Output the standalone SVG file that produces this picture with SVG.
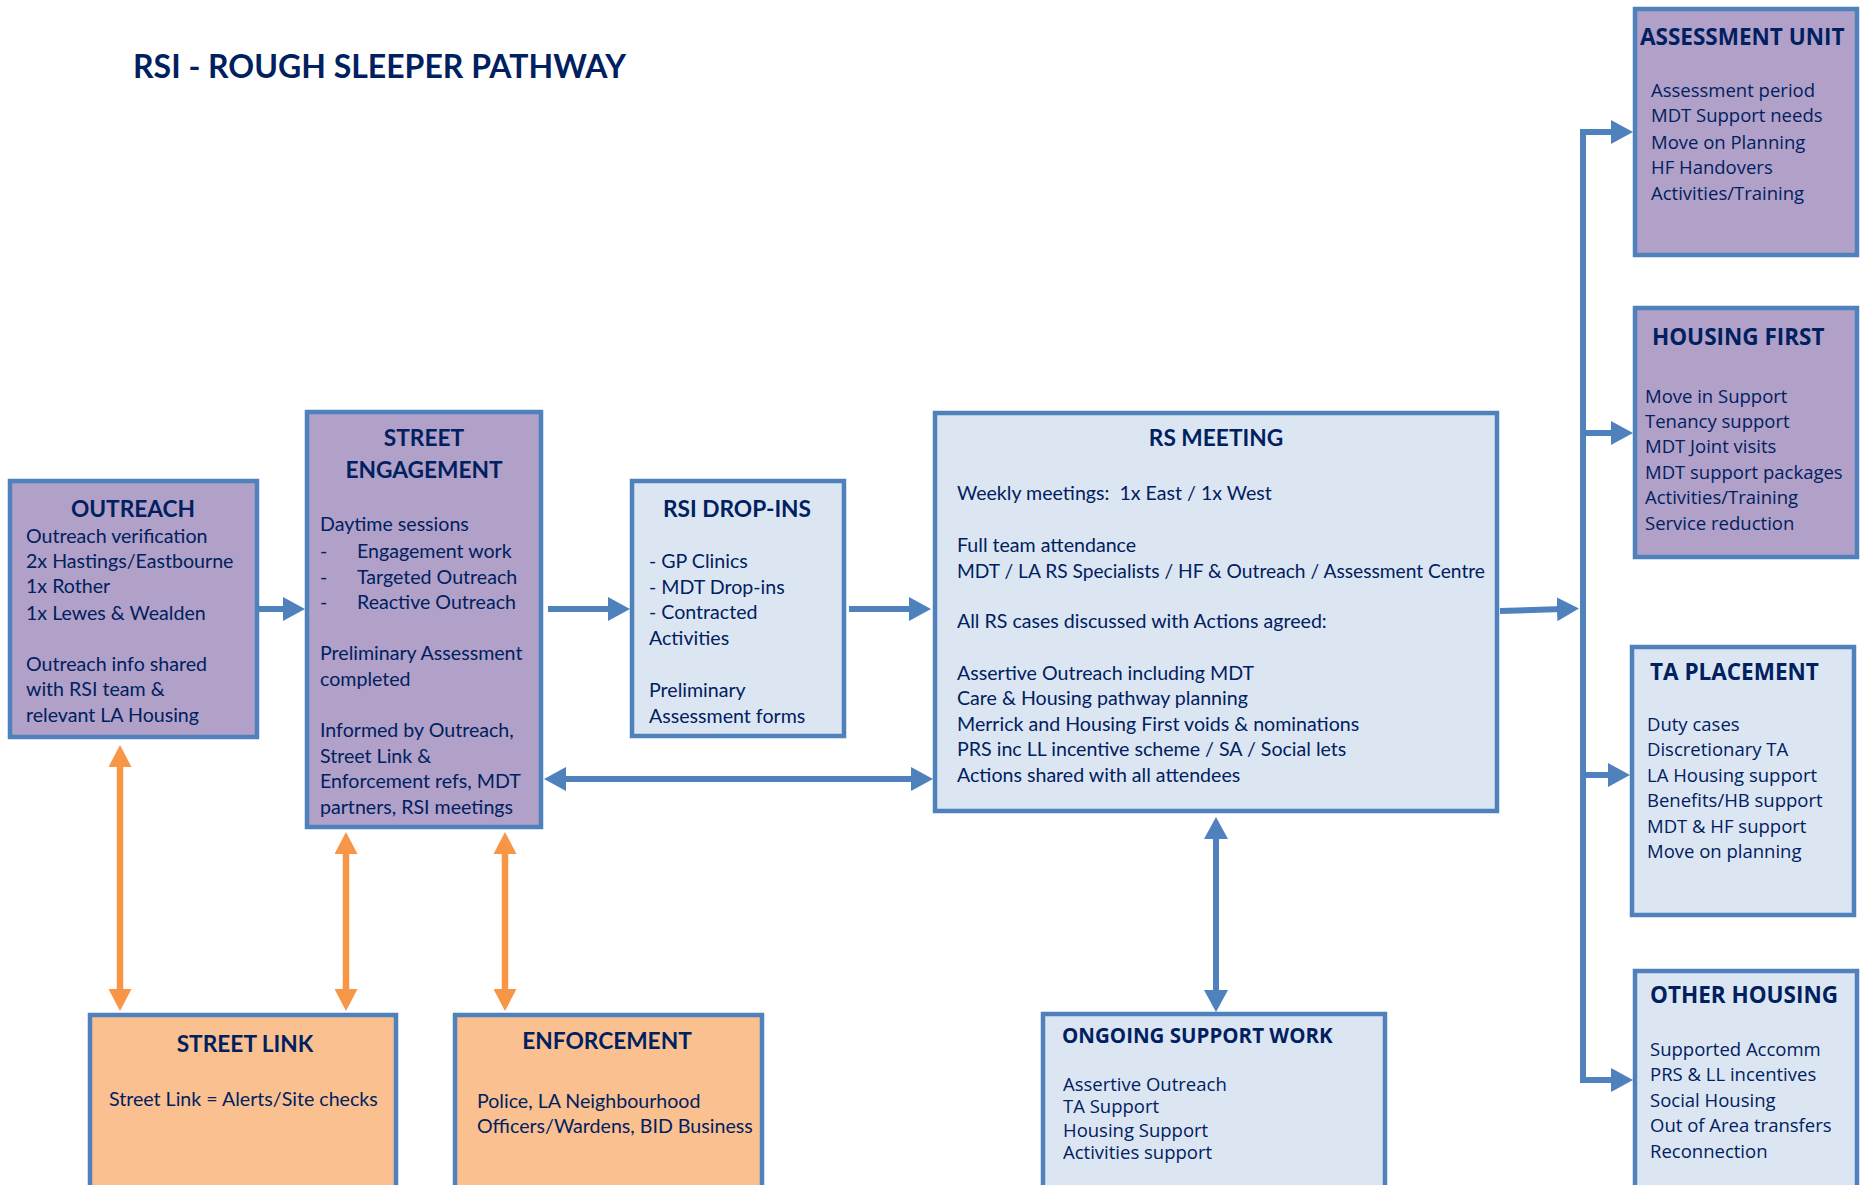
<svg xmlns="http://www.w3.org/2000/svg" width="1864" height="1185" viewBox="0 0 1864 1185">
<style>
.box{stroke:#4F81BD;stroke-width:4.5}
.pur{fill:#B1A0C7}
.lb{fill:#DCE6F2}
.pe{fill:#FAC090}
text{fill:#002060}
.t{font-family:Lato,"Liberation Sans",sans-serif;font-weight:bold;font-size:22.7px}
.b{font-family:Lato,"Liberation Sans",sans-serif;font-size:19.6px}
.tr{font-family:"Open Sans","Liberation Sans",sans-serif;font-weight:bold;font-size:22.5px}
.br{font-family:"Open Sans","Liberation Sans",sans-serif;font-size:18.5px}
.c{text-anchor:middle}
.bl{stroke:#4F81BD;stroke-width:6;fill:none}
.or{stroke:#F79646;stroke-width:6.5;fill:none}
</style>
<defs>
<marker id="ab" markerUnits="userSpaceOnUse" markerWidth="22" markerHeight="24" refX="6" refY="12" orient="auto-start-reverse" viewBox="0 0 22 24"><path d="M0,0 L22,12 L0,24 z" fill="#4F81BD"/></marker>
<marker id="ao" markerUnits="userSpaceOnUse" markerWidth="22" markerHeight="23" refX="6" refY="11.5" orient="auto-start-reverse" viewBox="0 0 22 23"><path d="M0,0 L22,11.5 L0,23 z" fill="#F79646"/></marker>
</defs>
<rect width="1864" height="1185" fill="#FFFFFF"/>
<text x="133" y="78" style="font-family:Lato,'Liberation Sans',sans-serif;font-weight:bold;font-size:32px">RSI - ROUGH SLEEPER PATHWAY</text>

<g id="connectors">
<line class="bl" x1="259" y1="609" x2="289" y2="609" marker-end="url(#ab)"/>
<line class="bl" x1="548" y1="609" x2="614" y2="609" marker-end="url(#ab)"/>
<line class="bl" x1="849" y1="609" x2="915" y2="609" marker-end="url(#ab)"/>
<line class="bl" x1="560" y1="779" x2="917" y2="779" marker-start="url(#ab)" marker-end="url(#ab)"/>
<line class="bl" x1="1500" y1="611" x2="1563" y2="609" marker-end="url(#ab)"/>
<line class="bl" x1="1583" y1="129" x2="1583" y2="1083"/>
<line class="bl" x1="1580" y1="132" x2="1617" y2="132" marker-end="url(#ab)"/>
<line class="bl" x1="1580" y1="433" x2="1617" y2="433" marker-end="url(#ab)"/>
<line class="bl" x1="1580" y1="775" x2="1614" y2="775" marker-end="url(#ab)"/>
<line class="bl" x1="1580" y1="1080" x2="1617" y2="1080" marker-end="url(#ab)"/>
<line class="bl" x1="1216" y1="833" x2="1216" y2="996" marker-start="url(#ab)" marker-end="url(#ab)"/>
<line class="or" x1="120" y1="761" x2="120" y2="995" marker-start="url(#ao)" marker-end="url(#ao)"/>
<line class="or" x1="346" y1="848" x2="346" y2="995" marker-start="url(#ao)" marker-end="url(#ao)"/>
<line class="or" x1="505" y1="848" x2="505" y2="995" marker-start="url(#ao)" marker-end="url(#ao)"/>
</g>

<g id="outreach">
<rect class="box pur" x="10" y="481" width="247" height="256"/>
<text class="t c" x="133" y="517">OUTREACH</text>
<text class="b" x="26" y="543">Outreach verification</text>
<text class="b" x="26" y="568">2x Hastings/Eastbourne</text>
<text class="b" x="26" y="593">1x Rother</text>
<text class="b" x="26" y="620">1x Lewes &amp; Wealden</text>
<text class="b" x="26" y="671">Outreach info shared</text>
<text class="b" x="26" y="696">with RSI team &amp;</text>
<text class="b" x="26" y="722">relevant LA Housing</text>
</g>

<g id="street-engagement">
<rect class="box pur" x="307" y="412" width="234" height="415"/>
<text class="t c" x="424" y="446">STREET</text>
<text class="t c" x="424" y="478">ENGAGEMENT</text>
<text class="b" x="320" y="531">Daytime sessions</text>
<text class="b" x="320" y="558">-</text><text class="b" x="357" y="558">Engagement work</text>
<text class="b" x="320" y="584">-</text><text class="b" x="357" y="584">Targeted Outreach</text>
<text class="b" x="320" y="609">-</text><text class="b" x="357" y="609">Reactive Outreach</text>
<text class="b" x="320" y="660">Preliminary Assessment</text>
<text class="b" x="320" y="686">completed</text>
<text class="b" x="320" y="737">Informed by Outreach,</text>
<text class="b" x="320" y="763">Street Link &amp;</text>
<text class="b" x="320" y="788">Enforcement refs, MDT</text>
<text class="b" x="320" y="814">partners, RSI meetings</text>
</g>

<g id="rsi-drop-ins">
<rect class="box lb" x="632" y="481" width="212" height="255"/>
<text class="t c" x="737" y="517">RSI DROP-INS</text>
<text class="b" x="649" y="568">- GP Clinics</text>
<text class="b" x="649" y="594">- MDT Drop-ins</text>
<text class="b" x="649" y="619">- Contracted</text>
<text class="b" x="649" y="645">Activities</text>
<text class="b" x="649" y="697">Preliminary</text>
<text class="b" x="649" y="723">Assessment forms</text>
</g>

<g id="rs-meeting">
<rect class="box lb" x="935" y="413" width="562" height="398"/>
<text class="t c" x="1216" y="446">RS MEETING</text>
<text class="b" x="957" y="500" xml:space="preserve">Weekly meetings:  1x East / 1x West</text>
<text class="b" x="957" y="552">Full team attendance</text>
<text class="b" x="957" y="578" textLength="528" lengthAdjust="spacingAndGlyphs">MDT / LA RS Specialists / HF &amp; Outreach / Assessment Centre</text>
<text class="b" x="957" y="628">All RS cases discussed with Actions agreed:</text>
<text class="b" x="957" y="680">Assertive Outreach including MDT</text>
<text class="b" x="957" y="705">Care &amp; Housing pathway planning</text>
<text class="b" x="957" y="731">Merrick and Housing First voids &amp; nominations</text>
<text class="b" x="957" y="756">PRS inc LL incentive scheme / SA / Social lets</text>
<text class="b" x="957" y="782">Actions shared with all attendees</text>
</g>

<g id="assessment-unit">
<rect class="box pur" x="1635" y="9" width="222" height="246"/>
<text class="tr" x="1640" y="45">ASSESSMENT UNIT</text>
<text class="br" x="1651" y="97">Assessment period</text>
<text class="br" x="1651" y="122">MDT Support needs</text>
<text class="br" x="1651" y="149">Move on Planning</text>
<text class="br" x="1651" y="174">HF Handovers</text>
<text class="br" x="1651" y="200">Activities/Training</text>
</g>

<g id="housing-first">
<rect class="box pur" x="1635" y="308" width="222" height="249"/>
<text class="tr" x="1652" y="345">HOUSING FIRST</text>
<text class="br" x="1645" y="403">Move in Support</text>
<text class="br" x="1645" y="428">Tenancy support</text>
<text class="br" x="1645" y="453">MDT Joint visits</text>
<text class="br" x="1645" y="479">MDT support packages</text>
<text class="br" x="1645" y="504">Activities/Training</text>
<text class="br" x="1645" y="530">Service reduction</text>
</g>

<g id="ta-placement">
<rect class="box lb" x="1632" y="647" width="222" height="268"/>
<text class="tr" x="1650" y="680">TA PLACEMENT</text>
<text class="br" x="1647" y="731">Duty cases</text>
<text class="br" x="1647" y="756">Discretionary TA</text>
<text class="br" x="1647" y="782">LA Housing support</text>
<text class="br" x="1647" y="807">Benefits/HB support</text>
<text class="br" x="1647" y="833">MDT &amp; HF support</text>
<text class="br" x="1647" y="858">Move on planning</text>
</g>

<g id="other-housing">
<rect class="box lb" x="1635" y="971" width="222" height="230"/>
<text class="tr" x="1650" y="1003">OTHER HOUSING</text>
<text class="br" x="1650" y="1056">Supported Accomm</text>
<text class="br" x="1650" y="1081">PRS &amp; LL incentives</text>
<text class="br" x="1650" y="1107">Social Housing</text>
<text class="br" x="1650" y="1132">Out of Area transfers</text>
<text class="br" x="1650" y="1158">Reconnection</text>
</g>

<g id="ongoing-support-work">
<rect class="box lb" x="1043" y="1014" width="342" height="200"/>
<text class="tr" x="1062" y="1043" style="font-size:20.5px">ONGOING SUPPORT WORK</text>
<text class="br" x="1063" y="1091">Assertive Outreach</text>
<text class="br" x="1063" y="1113">TA Support</text>
<text class="br" x="1063" y="1137">Housing Support</text>
<text class="br" x="1063" y="1159">Activities support</text>
</g>

<g id="street-link">
<rect class="box pe" x="90" y="1015" width="306" height="200"/>
<text class="t c" x="245" y="1052">STREET LINK</text>
<text class="b" x="109" y="1106">Street Link = Alerts/Site checks</text>
</g>

<g id="enforcement">
<rect class="box pe" x="455" y="1015" width="307" height="200"/>
<text class="t c" x="607" y="1049">ENFORCEMENT</text>
<text class="b" x="477" y="1108">Police, LA Neighbourhood</text>
<text class="b" x="477" y="1133">Officers/Wardens, BID Business</text>
</g>
</svg>
